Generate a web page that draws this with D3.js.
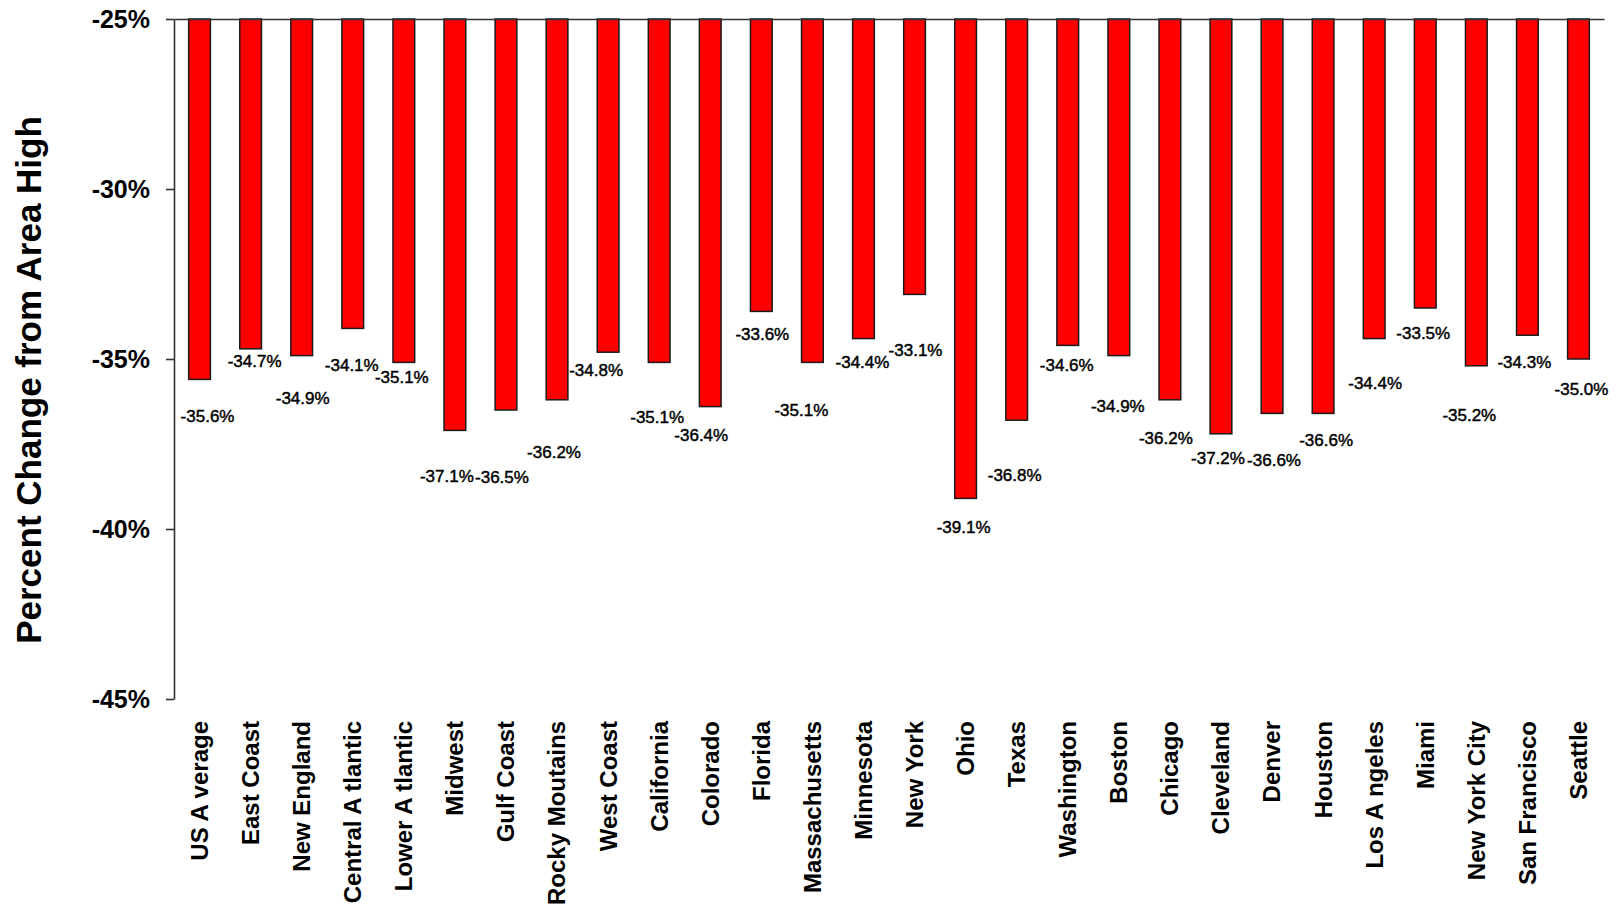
<!DOCTYPE html>
<html>
<head>
<meta charset="utf-8">
<script src="https://cdn.jsdelivr.net/npm/d3@7"></script>
<style>
  html, body { margin: 0; background: #fff; }
  svg { display: block; }
</style>
</head>
<body>
<svg id="chart" width="1617" height="905"></svg>
<script>
// Regions and metro areas
const categories = [
  "US A verage", "East Coast", "New England", "Central A tlantic", "Lower A tlantic",
  "Midwest", "Gulf Coast", "Rocky Moutains", "West Coast", "California", "Colorado",
  "Florida", "Massachusetts", "Minnesota", "New York", "Ohio", "Texas", "Washington",
  "Boston", "Chicago", "Cleveland", "Denver", "Houston", "Los A ngeles", "Miami",
  "New York City", "San Francisco", "Seattle"
];

// Percent change from area high
const values = [
  -35.6, -34.7, -34.9, -34.1, -35.1, -37.1, -36.5, -36.2, -34.8, -35.1, -36.4,
  -33.6, -35.1, -34.4, -33.1, -39.1, -36.8, -34.6, -34.9, -36.2, -37.2, -36.6,
  -36.6, -34.4, -33.5, -35.2, -34.3, -35.0
];

// Value axis ticks
const yTicks = [-25, -30, -35, -40, -45];

// Data label nudges (px), measured from each bar's centre and end
const labelDx = [8, 4, 1, -1, -2, -8, -4, -3, -12, -2, -9, 1, -11, -1, 1, -2, -2, -1, -1, -4, -3, 2, 3, 1, -2, -7, -3, 3];
const labelDy = [37, 13, 43, 37, 15, 46, 67, 53, 18, 55, 29, 23, 48, 24, 56, 29, 55, 20, 51, 39, 25, 47, 27, 45, 25, 50, 27, 30];

const plot = { left: 174, right: 1604, top: 19, bottom: 699 };
const FONT = "'Liberation Sans', Arial, sans-serif";
const pct = v => `${v}%`;

const svg = d3.select("#chart");

const x = d3.scaleBand()
  .domain(categories)
  .range([plot.left, plot.right])
  .paddingInner(0.575)
  .paddingOuter(0.2875);

const y = d3.scaleLinear()
  .domain([-45, -25])
  .range([plot.bottom, plot.top]);

const data = categories.map((c, i) => ({ c, v: values[i], dx: labelDx[i], dy: labelDy[i] }));

// Bars hang down from the -25% baseline
svg.append("g")
  .selectAll("rect")
  .data(data)
  .join("rect")
  .attr("x", d => x(d.c))
  .attr("y", y(-25))
  .attr("width", x.bandwidth())
  .attr("height", d => y(d.v) - y(-25))
  .attr("fill", "#ff0000")
  .attr("stroke", "#1a1a1a")
  .attr("stroke-width", 1.5);

// Data labels
svg.append("g")
  .selectAll("text")
  .data(data)
  .join("text")
  .attr("x", d => x(d.c) + x.bandwidth() / 2 + d.dx)
  .attr("y", d => y(d.v) + d.dy)
  .attr("text-anchor", "middle")
  .attr("dominant-baseline", "central")
  .attr("font-family", FONT)
  .attr("font-size", 17)
  .attr("fill", "#000")
  .attr("stroke", "#000")
  .attr("stroke-width", 0.45)
  .text(d => pct(d.v.toFixed(1)));

// Category axis line along the top (-25%)
const topAxis = svg.append("g")
  .attr("transform", `translate(0,${y(-25)})`)
  .call(d3.axisTop(x).tickSize(0).tickSizeOuter(0).tickFormat(() => ""));
topAxis.select(".domain").attr("stroke", "#333").attr("stroke-width", 1.6);
topAxis.selectAll(".tick").remove();

// Value axis
const yAxis = svg.append("g")
  .attr("transform", `translate(${plot.left},0)`)
  .call(d3.axisLeft(y).tickValues(yTicks).tickSize(8).tickSizeOuter(0).tickPadding(16).tickFormat(pct));
yAxis.select(".domain").attr("stroke", "#333").attr("stroke-width", 1.6);
yAxis.selectAll(".tick line").attr("stroke", "#333").attr("stroke-width", 1.6);
yAxis.selectAll(".tick text")
  .attr("font-family", FONT)
  .attr("font-size", 25)
  .attr("font-weight", "bold")
  .attr("fill", "#000");

// Rotated category labels below the plot
const xLabels = svg.append("g")
  .attr("transform", "translate(0,721)")
  .call(d3.axisBottom(x).tickSize(0).tickPadding(0));
xLabels.select(".domain").remove();
xLabels.selectAll(".tick text")
  .attr("x", 0)
  .attr("y", 0)
  .attr("dy", "0.35em")
  .attr("transform", "rotate(-90)")
  .attr("text-anchor", "end")
  .attr("font-family", FONT)
  .attr("font-size", 24)
  .attr("font-weight", "bold")
  .attr("fill", "#000");

// Value axis title
svg.append("text")
  .attr("transform", "translate(41,380) rotate(-90)")
  .attr("text-anchor", "middle")
  .attr("font-family", FONT)
  .attr("font-size", 35)
  .attr("font-weight", "bold")
  .attr("fill", "#000")
  .text("Percent Change from Area High");
</script>
</body>
</html>
